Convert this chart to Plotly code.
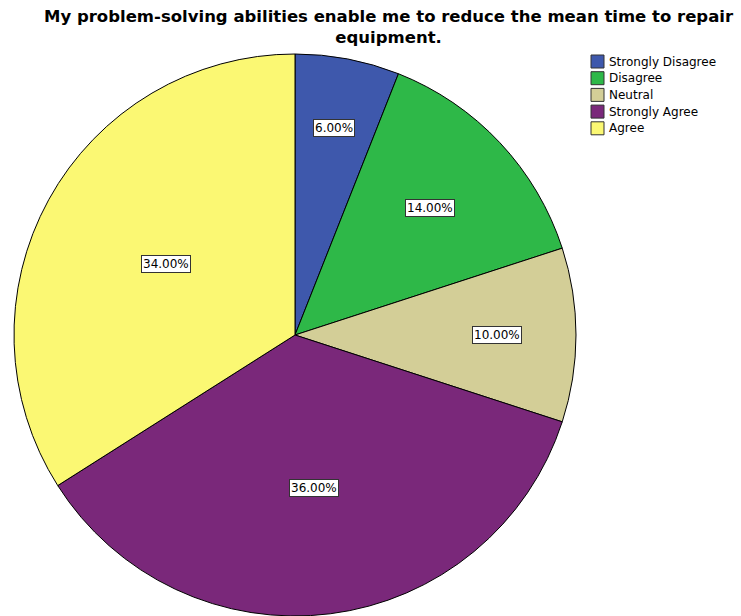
import math
import plotly.graph_objects as go

categories = ["Strongly Disagree", "Disagree", "Neutral", "Strongly Agree", "Agree"]
percents = [6.0, 14.0, 10.0, 36.0, 34.0]
colors = ["#3E58AC", "#2EB848", "#D3CE97", "#7A287A", "#FBF873"]
title_text = "My problem-solving abilities enable me to reduce the mean time to repair<br>equipment."

W, H = 741, 616
# pie geometry (pixels)
CX, CY, R = 295, 335, 281
label_radius = [0.75, 0.66, 0.72, 0.55, 0.525]
FONT = "DejaVu Sans, Verdana, sans-serif"

fig = go.Figure()
fig.add_trace(go.Pie(
    labels=categories,
    values=percents,
    sort=False,
    direction="clockwise",
    rotation=0,
    marker=dict(colors=colors, line=dict(color="#000000", width=1)),
    textinfo="none",
    hoverinfo="label+percent",
    showlegend=False,
    domain=dict(x=[(CX - R) / W, (CX + R) / W], y=[0, 1 - (CY - R) / H]),
))

total = sum(percents)
cum = 0.0
annotations = []
shapes = []
for v, rf in zip(percents, label_radius):
    mid = (cum + v / 2) / total * 2 * math.pi
    cum += v
    px = CX + rf * R * math.sin(mid)
    py = CY - rf * R * math.cos(mid)
    annotations.append(dict(
        x=px / W, y=1 - py / H, xref="paper", yref="paper",
        text=f"{v / total * 100:.2f}%", showarrow=False,
        font=dict(family=FONT, size=12, color="#000000"),
        bgcolor="#FFFFFF", bordercolor="#333333", borderwidth=1, borderpad=1,
        xanchor="center", yanchor="middle",
    ))

# legend (built from categories / colors)
LX0, LY0, STEP, SW = 591, 55, 16.7, 13
for i, (cat, col) in enumerate(zip(categories, colors)):
    top = LY0 + i * STEP
    shapes.append(dict(
        type="rect", xref="paper", yref="paper",
        x0=LX0 / W, x1=(LX0 + SW) / W, y0=1 - top / H, y1=1 - (top + SW) / H,
        fillcolor=col, line=dict(color="#333333", width=1),
    ))
    annotations.append(dict(
        x=(LX0 + SW + 3) / W, y=1 - (top + SW / 2) / H, xref="paper", yref="paper",
        text=cat, showarrow=False, xanchor="left", yanchor="middle",
        font=dict(family=FONT, size=12, color="#000000"),
    ))

# title
annotations.append(dict(
    x=389 / W, y=1 - 5 / H, xref="paper", yref="paper",
    text=title_text, showarrow=False, xanchor="center", yanchor="top", align="center",
    font=dict(family="DejaVu Sans, Verdana, sans-serif", size=16.5, color="#000000", weight="bold"),
))

fig.update_layout(
    width=W, height=H,
    margin=dict(l=0, r=0, t=0, b=0),
    paper_bgcolor="#FFFFFF",
    plot_bgcolor="#FFFFFF",
    showlegend=False,
    annotations=annotations,
    shapes=shapes,
)

fig.write_html("out.html")
